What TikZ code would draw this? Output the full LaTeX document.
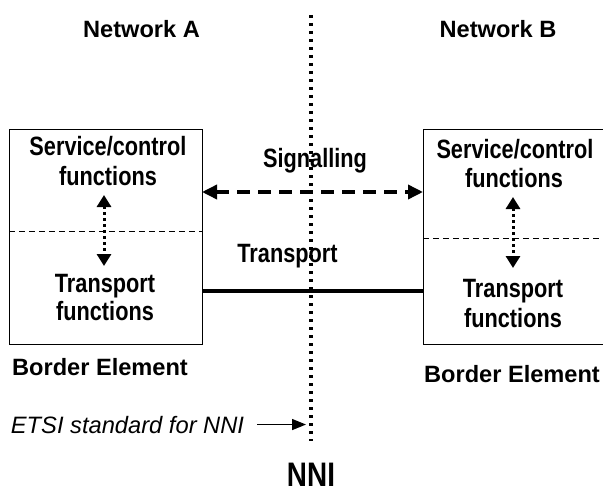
\documentclass[tikz,border=0pt]{standalone}
\usepackage{fontspec}
\setmainfont{Liberation Sans}
\newfontfamily\narrowsf[FakeStretch=0.82]{Liberation Sans}
\usetikzlibrary{arrows.meta}
\usetikzlibrary{positioning}

\tikzset{
  lbl/.style={inner sep=0pt, anchor=base, font=\fontsize{23.6}{28}\selectfont\bfseries},
  nlbl/.style={inner sep=0pt, anchor=base, font=\narrowsf\fontsize{26.5}{30}\selectfont\bfseries},
  border/.style={draw, line width=1pt, inner sep=0pt},
  divider/.style={line width=0.9pt, dash pattern=on 6pt off 4pt},
  updown/.style={line width=3pt, dash pattern=on 3pt off 3pt,
    {Triangle[length=12pt,width=14pt]}-{Triangle[length=12pt,width=14pt]}},
  sigline/.style={line width=3.5pt, dash pattern=on 13pt off 8pt,
    {Triangle[length=15pt,width=14pt]}-{Triangle[length=15pt,width=14pt]}},
}

\begin{document}
\begin{tikzpicture}[x=1pt,y=-1pt]
  \useasboundingbox (0,0) rectangle (603,495);

  \node[border, minimum width=193pt, minimum height=215pt] (boxA) at (105.5,236.5) {};
  \node[border, minimum width=183pt, minimum height=215pt] (boxB) at (514.5,236.5) {};

  \node[lbl] (netA) at (141.5,37.5) {Network A};
  \node[lbl] (netB) at (498,37.5) {Network B};

  \node[nlbl] (svcA) at (108,155) {Service/control};
  \node[nlbl] (fnA) at (108,185) {functions};
  \node[nlbl] (trA) at (105,292) {Transport};
  \node[nlbl] (fnA2) at (105,320) {functions};

  \node[nlbl] (svcB) at (515,158) {Service/control};
  \node[nlbl] (fnB) at (514,187) {functions};
  \node[nlbl] (trB) at (513,297) {Transport};
  \node[nlbl] (fnB2) at (513,327) {functions};

  \node[nlbl] (sig) at (315,167) {Signalling};
  \node[nlbl] (trans) at (287.5,262) {Transport};

  \node[lbl] (beA) at (100,375) {Border Element};
  \node[lbl] (beB) at (512,382) {Border Element};
  \node[inner sep=0pt, anchor=base, font=\fontsize{23.7}{28}\selectfont\itshape] (etsi) at (127.5,433) {ETSI standard for NNI};
  \node[inner sep=0pt, anchor=base, font=\narrowsf\fontsize{34}{38}\selectfont\bfseries] (nni) at (311,486) {NNI};

  \coordinate (nniTop) at (311,15);
  \coordinate (nniBot) at (311,441);
  \coordinate (sigA) at (202,192);
  \coordinate (sigB) at (423,192);
  \coordinate (trnA) at (202,291);
  \coordinate (trnB) at (423,291);
  \coordinate (divA1) at (9,231);
  \coordinate (divA2) at (202,231);
  \coordinate (divB1) at (423,238);
  \coordinate (divB2) at (605,238);
  \coordinate (upA) at (104,195);
  \coordinate (dnA) at (104,266);
  \coordinate (upB) at (513,197);
  \coordinate (dnB) at (513,268);

  \draw[divider] (divA1) -- (divA2);
  \draw[divider] (divB1) -- (divB2);
  \draw[updown] (upA) -- (dnA);
  \draw[updown] (upB) -- (dnB);
  \draw[line width=3.4pt, dash pattern=on 3.3pt off 4.7pt] (nniTop) -- (nniBot);
  \draw[sigline] (sigA) -- (sigB);
  \draw[line width=4.5pt] (trnA) -- (trnB);
  \draw[line width=1.5pt, -{Triangle[length=14pt,width=11pt]}] ([xshift=13pt]etsi.east) -- ([xshift=-5pt]etsi.east -| nniTop);
\end{tikzpicture}
\end{document}
